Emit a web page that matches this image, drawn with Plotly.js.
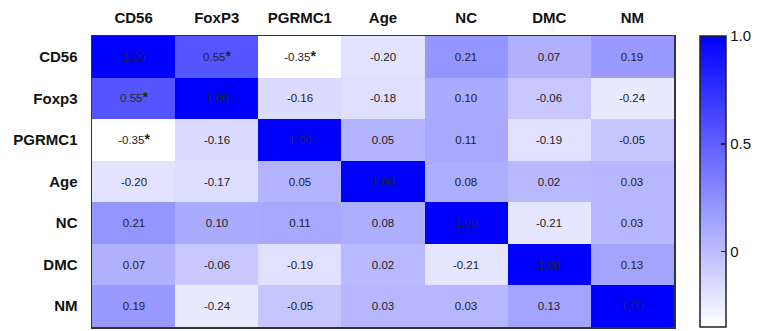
<!DOCTYPE html>
<html>
<head>
<meta charset="utf-8">
<script src="https://cdn.plot.ly/plotly-3.0.1.min.js"></script>
<style>html,body{margin:0;padding:0;background:#fff;}#chart{width:763px;height:331px;}</style>
</head>
<body>
<div id="chart"></div>
<script>
const xLabels = ["CD56", "FoxP3", "PGRMC1", "Age", "NC", "DMC", "NM"];
const yLabels = ["CD56", "Foxp3", "PGRMC1", "Age", "NC", "DMC", "NM"];
const rowCD56   = [1.00, 0.55, -0.35, -0.20, 0.21, 0.07, 0.19];
const rowFoxp3  = [0.55, 1.00, -0.16, -0.18, 0.10, -0.06, -0.24];
const rowPGRMC1 = [-0.35, -0.16, 1.00, 0.05, 0.11, -0.19, -0.05];
const rowAge    = [-0.20, -0.17, 0.05, 1.00, 0.08, 0.02, 0.03];
const rowNC     = [0.21, 0.10, 0.11, 0.08, 1.00, -0.21, 0.03];
const rowDMC    = [0.07, -0.06, -0.19, 0.02, -0.21, 1.00, 0.13];
const rowNM     = [0.19, -0.24, -0.05, 0.03, 0.03, 0.13, 1.00];
// significance flags (asterisks)
const sigCD56   = [0, 1, 1, 0, 0, 0, 0];
const sigFoxp3  = [1, 0, 0, 0, 0, 0, 0];
const sigPGRMC1 = [1, 0, 0, 0, 0, 0, 0];
const sigAge    = [0, 0, 0, 0, 0, 0, 0];
const sigNC     = [0, 0, 0, 0, 0, 0, 0];
const sigDMC    = [0, 0, 0, 0, 0, 0, 0];
const sigNM     = [0, 0, 0, 0, 0, 0, 0];
const colorTicks = [0, 0.5, 1.0];
const colorTickText = ["0", "0.5", "1.0"];

const z = [rowCD56, rowFoxp3, rowPGRMC1, rowAge, rowNC, rowDMC, rowNM];
const sig = [sigCD56, sigFoxp3, sigPGRMC1, sigAge, sigNC, sigDMC, sigNM];
const text = z.map((row, i) => row.map((v, j) => v.toFixed(2) + (sig[i][j] ? "<b style='font-size:14px'>*</b>" : "")));

const trace = {
  type: "heatmap",
  x: xLabels,
  y: yLabels,
  z: z,
  text: text,
  texttemplate: "%{text}",
  textfont: {family: "Liberation Sans, Arial, sans-serif", size: 11.5, color: "#222"},
  zmin: -0.35,
  zmax: 1.0,
  colorscale: [[0, "rgb(255,255,255)"], [1, "rgb(0,0,255)"]],
  xgap: 0, ygap: 0,
  hoverinfo: "none",
  colorbar: {
    x: 1.0447, xanchor: "left", xpad: 0,
    y: 0.5, yanchor: "middle", len: 1, lenmode: "fraction", ypad: 0,
    thickness: 26,
    outlinecolor: "#222", outlinewidth: 1.5,
    tickmode: "array", tickvals: colorTicks, ticktext: colorTickText,
    ticks: "inside", ticklen: 5, tickwidth: 1.5, tickcolor: "#222",
    tickfont: {family: "Liberation Sans, Arial, sans-serif", size: 15, color: "#111"}
  }
};

const layout = {
  width: 763, height: 331,
  margin: {l: 92, r: 89, t: 36, b: 4},
  paper_bgcolor: "#fff", plot_bgcolor: "#fff",
  xaxis: {
    side: "top", type: "category",
    showline: true, mirror: true, linecolor: "#333", linewidth: 1.5,
    ticks: "", showgrid: false, zeroline: false,
    tickfont: {family: "Liberation Sans, Arial, sans-serif", size: 15, color: "#111", weight: "bold"},
    ticklabelstandoff: 6
  },
  yaxis: {
    type: "category", autorange: "reversed",
    showline: true, mirror: true, linecolor: "#333", linewidth: 1.5,
    ticks: "", showgrid: false, zeroline: false,
    tickfont: {family: "Liberation Sans, Arial, sans-serif", size: 15, color: "#111", weight: "bold"},
    ticklabelstandoff: 10
  },
  font: {family: "Liberation Sans, Arial, sans-serif"}
};

Plotly.newPlot("chart", [trace], layout, {displayModeBar: false, staticPlot: true});
</script>
</body>
</html>
